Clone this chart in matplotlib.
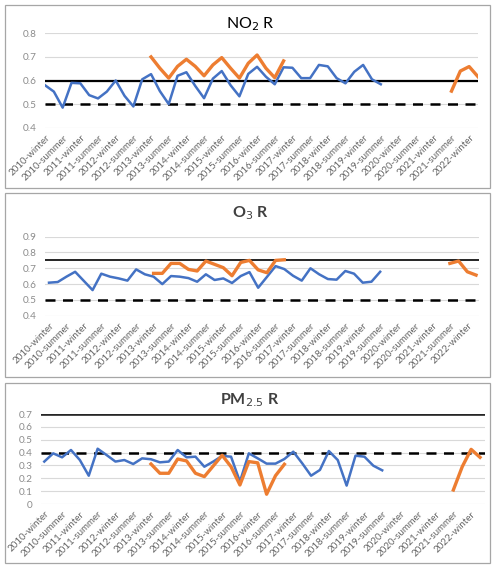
import numpy as np
import matplotlib
matplotlib.use("Agg")
import matplotlib.pyplot as plt
from matplotlib.patches import Rectangle

plt.rcParams['font.family'] = ['Lato', 'DejaVu Sans']

# categories: 4 seasons per year, 2010-winter .. 2022-autumn
years = list(range(2010, 2023))
seasons = ['winter', 'spring', 'summer', 'autumn']
categories = [f'{y}-{s}' for y in years for s in seasons][:50]

# NO2 R
no2_blue = [0.58, 0.553, 0.485, 0.59, 0.588, 0.538, 0.524, 0.553, 0.6, 0.535,
            0.49, 0.605, 0.627, 0.555, 0.5, 0.62, 0.635, 0.577, 0.525, 0.608,
            0.64, 0.58, 0.533, 0.628, 0.658, 0.616, 0.584, 0.656, 0.654, 0.61,
            0.61, 0.666, 0.66, 0.61, 0.588, 0.637, 0.666, 0.605, 0.584]
no2_orange_a = [0.7, 0.652, 0.61, 0.66, 0.69, 0.66, 0.62, 0.666, 0.697, 0.652,
                0.61, 0.673, 0.708, 0.652, 0.612, 0.683]
no2_orange_b = [0.555, 0.64, 0.659, 0.616]

# O3 R
o3_blue = [0.609, 0.613, 0.647, 0.678, 0.62, 0.562, 0.666, 0.647, 0.636, 0.622,
           0.693, 0.662, 0.647, 0.6, 0.651, 0.647, 0.638, 0.615, 0.662, 0.626,
           0.636, 0.607, 0.651, 0.676, 0.577, 0.645, 0.714, 0.695, 0.653, 0.622,
           0.7, 0.662, 0.632, 0.628, 0.683, 0.666, 0.609, 0.615, 0.678]
o3_orange_a = [0.668, 0.668, 0.731, 0.731, 0.693, 0.683, 0.746, 0.725, 0.704, 0.653,
               0.737, 0.75, 0.69, 0.672, 0.75, 0.754]
o3_orange_b = [0.731, 0.746, 0.678, 0.657]

# PM2.5 R
pm_blue = [0.33, 0.394, 0.363, 0.42, 0.342, 0.22, 0.43, 0.381, 0.33, 0.342,
           0.311, 0.355, 0.348, 0.324, 0.33, 0.42, 0.363, 0.368, 0.29, 0.33,
           0.374, 0.368, 0.174, 0.394, 0.355, 0.314, 0.314, 0.35, 0.407, 0.317,
           0.22, 0.265, 0.412, 0.342, 0.143, 0.376, 0.368, 0.298, 0.262]
pm_orange_a = [0.311, 0.239, 0.239, 0.35, 0.335, 0.239, 0.213, 0.296, 0.379, 0.29,
               0.148, 0.33, 0.32, 0.076, 0.22, 0.309]
pm_orange_b = [0.109, 0.29, 0.425, 0.363]

# reference lines (solid, dashed)
no2_ref = (0.6, 0.5)
o3_ref = (0.75, 0.5)
pm_ref = (0.7, 0.4)


def full(blue=None, a=None, b=None):
    arr = np.full(len(categories), np.nan)
    if blue is not None:
        arr[:len(blue)] = blue
    if a is not None:
        arr[12:12 + len(a)] = a
    if b is not None:
        arr[46:46 + len(b)] = b
    return arr


W, H = 500, 569
fig = plt.figure(figsize=(W / 100, H / 100), dpi=100)

BLUE = '#4472C4'
ORANGE = '#ED7D31'

panels = [
    dict(box=(5, 5, 490, 188), ax=(45, 33.3, 478, 127.7), ylim=(0.4, 0.8),
         yticks=[0.4, 0.5, 0.6, 0.7, 0.8], xlim=(0, 49),
         title=r'NO$_2$ R', ty=24, bold=False, tcolor='black',
         solid=('black', 1.6),
         blue=no2_blue, oa=no2_orange_a, ob=no2_orange_b, ref=no2_ref),
    dict(box=(5, 193, 490, 377), ax=(45, 236.7, 479, 315.7), ylim=(0.4, 0.9),
         yticks=[0.4, 0.5, 0.6, 0.7, 0.8, 0.9], xlim=(-0.46, 49.34),
         title=r'O$_3$ R', ty=213, bold=True, tcolor='#404040',
         solid=('black', 1.2),
         blue=o3_blue, oa=o3_orange_a, ob=o3_orange_b, ref=o3_ref),
    dict(box=(5, 383, 490, 563), ax=(41, 414, 485, 504), ylim=(0, 0.7),
         yticks=[0, 0.1, 0.2, 0.3, 0.4, 0.5, 0.6, 0.7], xlim=(-0.37, 49.56),
         title=r'PM$_{2.5}$ R', ty=400, bold=True, tcolor='#404040',
         solid=('#262626', 1.9),
         blue=pm_blue, oa=pm_orange_a, ob=pm_orange_b, ref=pm_ref),
]

x = np.arange(len(categories))

for p in panels:
    bx0, by0, bx1, by1 = p['box']
    fig.add_artist(Rectangle((bx0 / W, 1 - by1 / H), (bx1 - bx0) / W, (by1 - by0) / H,
                             transform=fig.transFigure, fill=False,
                             ec='#a6a6a6', lw=0.9))
    ax0, ay0, ax1, ay1 = p['ax']
    ax = fig.add_axes([ax0 / W, 1 - ay1 / H, (ax1 - ax0) / W, (ay1 - ay0) / H])
    for s in ax.spines.values():
        s.set_visible(False)
    ax.set_ylim(*p['ylim'])
    ax.set_xlim(*p['xlim'])
    ax.set_yticks(p['yticks'])
    ax.set_yticklabels([f'{v:g}' for v in p['yticks']], fontsize=7.2, color='#8c8c8c')
    ax.yaxis.grid(True, color='#d9d9d9', lw=0.8)
    ax.set_axisbelow(True)
    ax.tick_params(length=0, pad=6)
    ax.set_xticks(x[::2])
    ax.set_xticklabels(categories[::2], rotation=45, ha='right',
                       rotation_mode='anchor', fontsize=7, color='#666666')
    ax.tick_params(axis='x', pad=4)

    ax.axhline(p['ref'][0], color=p['solid'][0], lw=p['solid'][1], zorder=2)
    ax.axhline(p['ref'][1], color='black', lw=1.8, ls=(0, (4, 3)), zorder=2)
    ax.plot(x, full(blue=p['blue']), color=BLUE, lw=1.8, zorder=3)
    ax.plot(x, full(a=p['oa'], b=p['ob']), color=ORANGE, lw=2.4, zorder=4)

    fig.text(250 / W, 1 - p['ty'] / H, p['title'], ha='center', va='center',
             fontsize=11.5, color=p['tcolor'],
             fontweight='bold' if p['bold'] else 'normal')

fig.savefig('out.png', dpi=100)
